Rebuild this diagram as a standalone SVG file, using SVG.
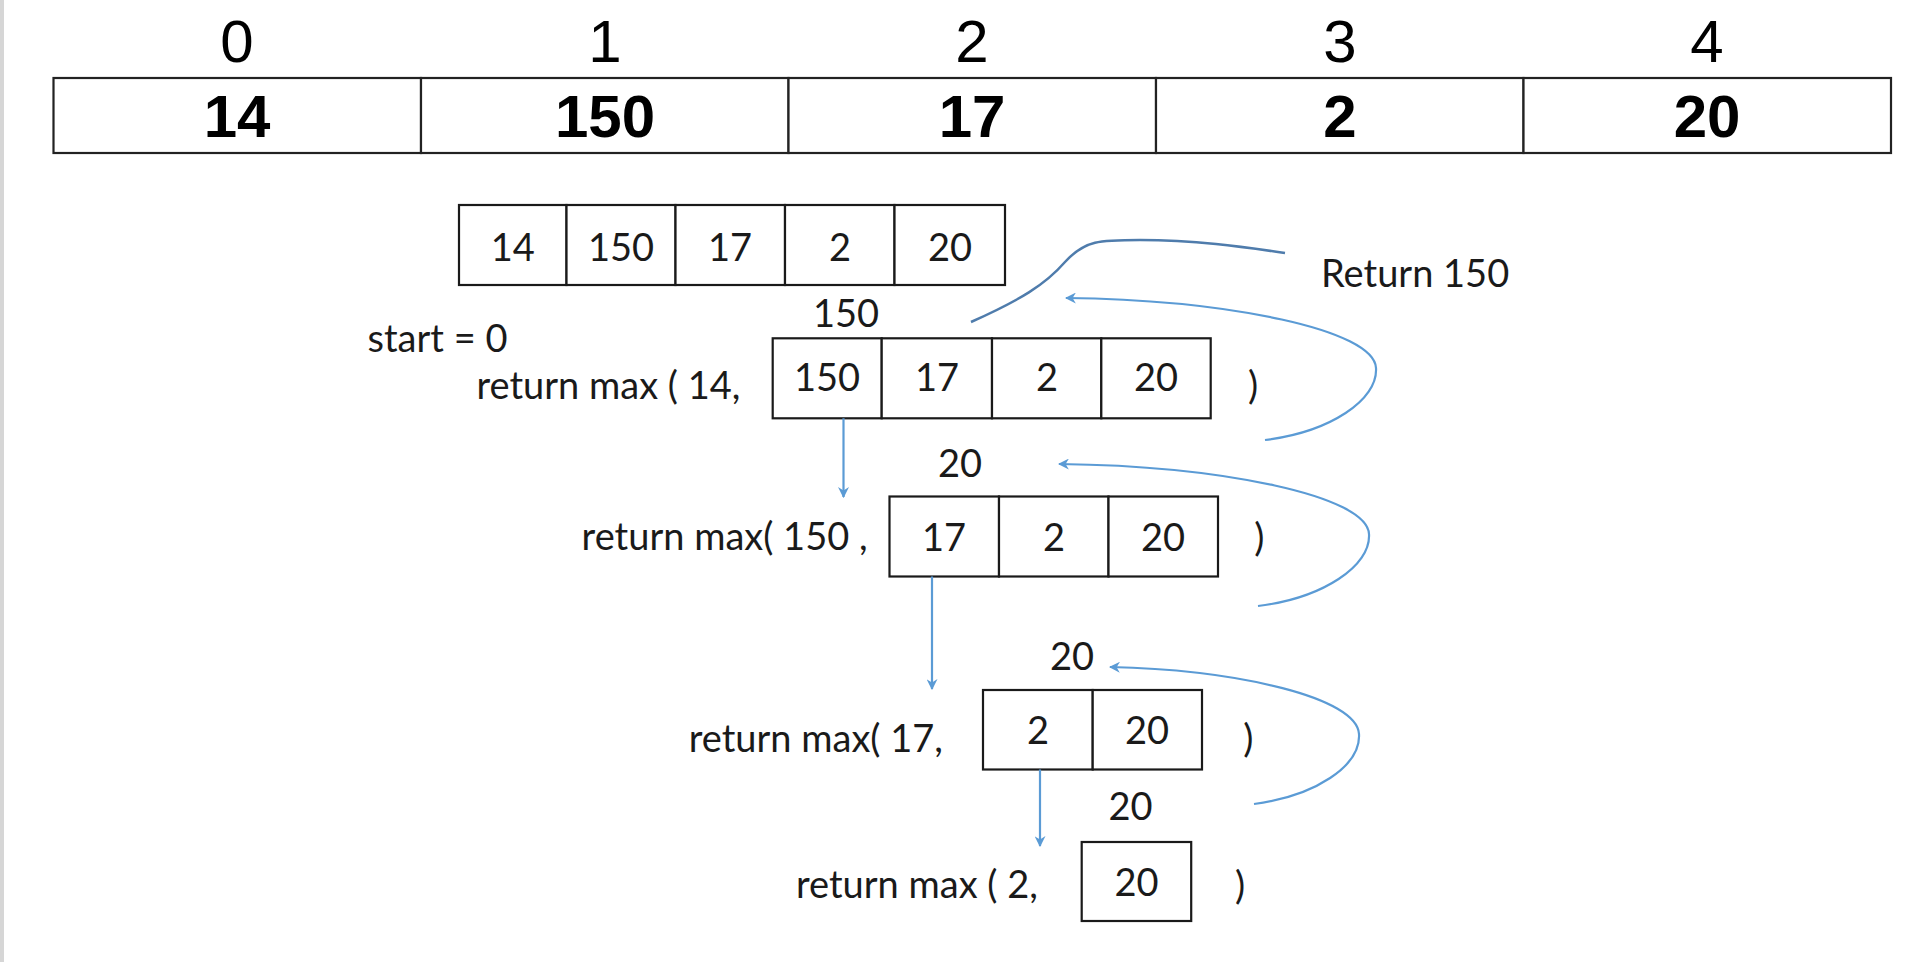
<svg xmlns="http://www.w3.org/2000/svg" width="1908" height="962" viewBox="0 0 1908 962">
<defs>
<style>
.bg{fill:#ffffff}
.strip{fill:#d6d6d6}
.cell{fill:#ffffff;stroke:#1a1a1a;stroke-width:2.2}
.tcell{fill:#ffffff;stroke:#222222;stroke-width:2.2}
.idx{font-family:"Liberation Sans",Arial,sans-serif;font-size:60px;fill:#000;text-anchor:middle}
.val{font-family:"Liberation Sans",Arial,sans-serif;font-size:60px;font-weight:bold;fill:#000;text-anchor:middle}
.num{font-family:Lato,"Open Sans",sans-serif;font-size:38px;fill:#1a1a1a;text-anchor:middle}
.lbl{font-family:Lato,"Open Sans",sans-serif;font-size:38px;fill:#1a1a1a}
.lblm{font-family:Lato,"Open Sans",sans-serif;font-size:38px;fill:#1a1a1a;text-anchor:middle}
.arr{fill:none;stroke:#5B9BD5;stroke-width:2.2}
.ret{fill:none;stroke:#4F7CAC;stroke-width:2.5}
</style>
<marker id="ah" viewBox="0 0 10 10" refX="9" refY="5" markerWidth="11" markerHeight="11" markerUnits="userSpaceOnUse" orient="auto">
<path d="M0,0 L10,5 L0,10 L3,5 z" fill="#5B9BD5"/>
</marker>
</defs>
<rect class="bg" x="0" y="0" width="1908" height="962"/>
<rect class="strip" x="0" y="0" width="4" height="962"/>

<g id="top-array">
<rect class="tcell" x="53.5" y="78" width="367.5" height="75"/>
<rect class="tcell" x="421" y="78" width="367.5" height="75"/>
<rect class="tcell" x="788.5" y="78" width="367.5" height="75"/>
<rect class="tcell" x="1156" y="78" width="367.5" height="75"/>
<rect class="tcell" x="1523.5" y="78" width="367.5" height="75"/>
<text class="idx" x="237" y="61.5">0</text>
<text class="idx" x="605" y="61.5">1</text>
<text class="idx" x="972" y="61.5">2</text>
<text class="idx" x="1340" y="61.5">3</text>
<text class="idx" x="1707" y="61.5">4</text>
<text class="val" x="237" y="137">14</text>
<text class="val" x="605" y="137">150</text>
<text class="val" x="972" y="137">17</text>
<text class="val" x="1340" y="137">2</text>
<text class="val" x="1707" y="137">20</text>
</g>

<g id="row0">
<rect class="cell" x="459" y="205" width="107.5" height="80"/>
<rect class="cell" x="566.5" y="205" width="109" height="80"/>
<rect class="cell" x="675.5" y="205" width="109.5" height="80"/>
<rect class="cell" x="785" y="205" width="109.5" height="80"/>
<rect class="cell" x="894.5" y="205" width="110.5" height="80"/>
<text class="num" x="512.7" y="261">14</text>
<text class="num" x="621" y="261">150</text>
<text class="num" x="730" y="261">17</text>
<text class="num" x="840" y="261">2</text>
<text class="num" x="950" y="261">20</text>
</g>

<g id="row1">
<text class="lbl" x="367.5" y="352">start = 0</text>
<text class="lbl" x="476.5" y="399">return max ( 14,</text>
<text class="lblm" x="846" y="327">150</text>
<rect class="cell" x="772.7" y="338.3" width="109" height="80"/>
<rect class="cell" x="881.7" y="338.3" width="110.3" height="80"/>
<rect class="cell" x="992" y="338.3" width="109.3" height="80"/>
<rect class="cell" x="1101.3" y="338.3" width="109.4" height="80"/>
<text class="num" x="827" y="391">150</text>
<text class="num" x="937" y="391">17</text>
<text class="num" x="1047" y="391">2</text>
<text class="num" x="1156" y="391">20</text>
<text class="lblm" x="1253" y="399">)</text>
</g>

<g id="row2">
<text class="lbl" x="581.6" y="550">return max( 150 ,</text>
<text class="lblm" x="960" y="477">20</text>
<rect class="cell" x="889.5" y="496.5" width="109.5" height="80"/>
<rect class="cell" x="999" y="496.5" width="109.5" height="80"/>
<rect class="cell" x="1108.5" y="496.5" width="109.5" height="80"/>
<text class="num" x="944" y="550.5">17</text>
<text class="num" x="1054" y="550.5">2</text>
<text class="num" x="1163" y="550.5">20</text>
<text class="lblm" x="1259.4" y="551">)</text>
</g>

<g id="row3">
<text class="lbl" x="688.7" y="752">return max( 17,</text>
<text class="lblm" x="1072" y="670">20</text>
<rect class="cell" x="983" y="690" width="109.7" height="79.5"/>
<rect class="cell" x="1092.7" y="690" width="109.3" height="79.5"/>
<text class="num" x="1038" y="744">2</text>
<text class="num" x="1147" y="744">20</text>
<text class="lblm" x="1248.4" y="752">)</text>
</g>

<g id="row4">
<text class="lbl" x="796" y="898">return max ( 2,</text>
<text class="lblm" x="1130.5" y="820">20</text>
<rect class="cell" x="1081.7" y="842" width="109.5" height="79"/>
<text class="num" x="1136.5" y="896">20</text>
<text class="lblm" x="1240" y="899">)</text>
</g>

<g id="return-label">
<text class="lbl" x="1321" y="287">Return 150</text>
</g>

<g id="connectors">
<line class="arr" x1="843.5" y1="418.3" x2="843.5" y2="497" marker-end="url(#ah)"/>
<line class="arr" x1="932" y1="576.5" x2="932" y2="689" marker-end="url(#ah)"/>
<line class="arr" x1="1040" y1="769.5" x2="1040" y2="846" marker-end="url(#ah)"/>
<path class="ret" d="M971,322 C1020,300 1045,285 1065,262 C1085,240 1100,240 1140,240 C1200,240 1250,248 1285,253"/>
<path class="arr" d="M1265,440 C1330,432 1378,400 1376,368 C1374,330 1230,300 1066,298" marker-end="url(#ah)"/>
<path class="arr" d="M1258,606 C1323,598 1371,566 1369,534 C1367,496 1223,466 1059,464" marker-end="url(#ah)"/>
<path class="arr" d="M1254,804 C1315,796 1361,766 1359,734 C1357,698 1240,670 1110,667" marker-end="url(#ah)"/>
</g>
</svg>
